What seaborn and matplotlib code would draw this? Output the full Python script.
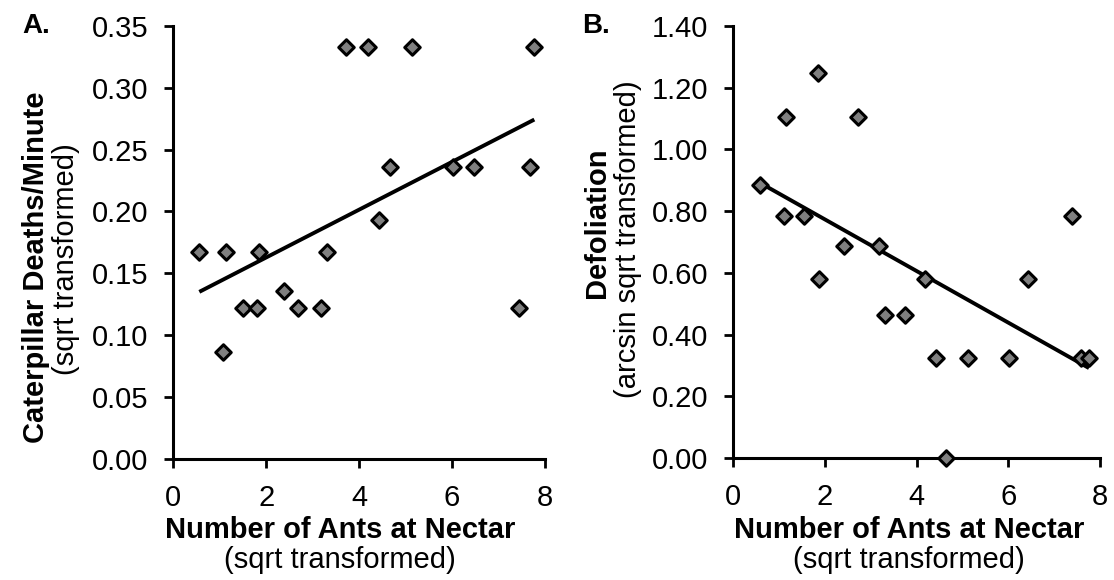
import numpy as np
import pandas as pd
import matplotlib
matplotlib.use("Agg")
import matplotlib.pyplot as plt
import seaborn as sns

# ---- data ----
ants_a = [0.56, 1.06, 1.14, 1.51, 1.80, 1.84, 2.39, 2.69, 3.17, 3.31,
          3.72, 4.18, 4.42, 4.66, 5.14, 6.03, 6.47, 7.43, 7.67, 7.77]
deaths = [0.167, 0.0865, 0.167, 0.122, 0.122, 0.167, 0.136, 0.122, 0.122, 0.167,
          0.333, 0.333, 0.193, 0.236, 0.333, 0.236, 0.236, 0.122, 0.236, 0.333]

ants_b = [0.58, 1.10, 1.15, 1.54, 1.84, 1.88, 2.41, 2.71, 3.18, 3.32,
          3.74, 4.18, 4.42, 4.65, 5.13, 6.02, 6.44, 7.40, 7.59, 7.76]
defol = [0.885, 0.785, 1.106, 0.785, 1.249, 0.580, 0.686, 1.106, 0.686, 0.464,
         0.464, 0.580, 0.324, 0.0, 0.324, 0.324, 0.580, 0.785, 0.324, 0.324]

x_ticks = [0, 2, 4, 6, 8]
ya_ticks = [0.00, 0.05, 0.10, 0.15, 0.20, 0.25, 0.30, 0.35]
yb_ticks = [0.00, 0.20, 0.40, 0.60, 0.80, 1.00, 1.20, 1.40]

df_a = pd.DataFrame({"ants": ants_a, "val": deaths})
df_b = pd.DataFrame({"ants": ants_b, "val": defol})

sns.set_style("ticks")
plt.rcParams["font.family"] = ["Liberation Sans", "DejaVu Sans"]
plt.rcParams["text.color"] = "black"
plt.rcParams["axes.labelcolor"] = "black"
plt.rcParams["xtick.color"] = "black"
plt.rcParams["ytick.color"] = "black"

W, H = 1114, 580
fig = plt.figure(figsize=(W / 100, H / 100), dpi=100)

def px_axes(l, t, r, b):
    return fig.add_axes([l / W, 1 - b / H, (r - l) / W, (b - t) / H])

axA = px_axes(173.3, 26.0, 545.0, 458.6)
axB = px_axes(733.3, 26.0, 1100.0, 457.9)

FS = 21
for ax, df, yt, ylim in [(axA, df_a, ya_ticks, 0.35), (axB, df_b, yb_ticks, 1.40)]:
    sns.regplot(data=df, x="ants", y="val", ax=ax, scatter=False, ci=None,
                line_kws=dict(color="black", lw=2.8, solid_capstyle="butt"))
    sns.scatterplot(data=df, x="ants", y="val", ax=ax, marker="D", s=62,
                    color="#7f7f7f", edgecolor="black", linewidth=2.2,
                    clip_on=False, zorder=5)
    ax.set_xlim(0, 8)
    ax.set_ylim(0, ylim)
    ax.set_xticks(x_ticks)
    ax.set_xticklabels([str(v) for v in x_ticks])
    ax.set_yticks(yt)
    ax.set_yticklabels([f"{v:.2f}" for v in yt])
    ax.set_xlabel("")
    ax.set_ylabel("")
    for s in ["top", "right"]:
        ax.spines[s].set_visible(False)
    for s in ["left", "bottom"]:
        ax.spines[s].set_linewidth(2.2)
        ax.spines[s].set_color("black")
    ax.tick_params(axis="both", direction="out", length=6.5, width=2.0,
                   pad=11.5, labelsize=FS, colors="black")
    ax.set_facecolor("none")

def fy(py):
    return 1 - py / H

# panel letters
fig.text(22 / W, fy(33), "A.", fontsize=20, fontweight="bold", ha="left", va="baseline")
fig.text(582 / W, fy(33), "B.", fontsize=20, fontweight="bold", ha="left", va="baseline")

# x labels
for cx in [340, 909]:
    fig.text(cx / W, fy(538), "Number of Ants at Nectar", fontsize=FS,
             fontweight="bold", ha="center", va="baseline")
    fig.text(cx / W, fy(568), "(sqrt transformed)", fontsize=FS,
             ha="center", va="baseline")

# y labels
fig.text(36.5 / W, fy(267), "Caterpillar Deaths/Minute", fontsize=FS,
         fontweight="bold", rotation=90, ha="center", va="center")
fig.text(66.5 / W, fy(259), "(sqrt transformed)", fontsize=FS,
         rotation=90, ha="center", va="center")
fig.text(597 / W, fy(223), "Defoliation", fontsize=FS,
         fontweight="bold", rotation=90, ha="center", va="center")
fig.text(627.5 / W, fy(239), "(arcsin sqrt transformed)", fontsize=FS,
         rotation=90, ha="center", va="center")

fig.savefig("out.png", dpi=100, facecolor="white")
